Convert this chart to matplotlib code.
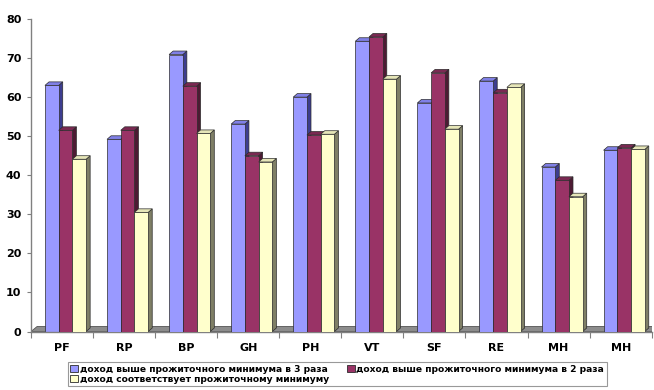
import matplotlib
matplotlib.use("Agg")
import matplotlib.pyplot as plt
from matplotlib.patches import Polygon, Patch

# Data
categories = ["PF", "RP", "BP", "GH", "PH", "VT", "SF", "RE", "MH", "MH"]
series_names = [
    "доход выше прожиточного минимума в 3 раза",
    "доход выше прожиточного минимума в 2 раза",
    "доход соответствует прожиточному минимуму",
]
income_3x = [63.0, 49.2, 70.9, 53.1, 60.0, 74.3, 58.5, 64.1, 42.1, 46.4]
income_2x = [51.5, 51.5, 62.8, 45.0, 50.3, 75.4, 66.2, 61.1, 38.7, 47.0]
income_min = [44.1, 30.5, 50.7, 43.4, 50.5, 64.6, 51.8, 62.5, 34.5, 46.6]
series = [income_3x, income_2x, income_min]

y_ticks = [0, 10, 20, 30, 40, 50, 60, 70, 80]

# Face colours: front, top, side
front_colors = ["#9999FF", "#993366", "#FFFFCC"]
top_colors = ["#8080E6", "#7A2952", "#E6E6B8"]
side_colors = ["#3D3D8F", "#4D1A33", "#7F7F66"]
edge_color = "#2b2b2b"

FONT = ["DejaVu Sans"]
plt.rcParams["font.family"] = FONT
plt.rcParams["font.weight"] = "bold"

fig = plt.figure(figsize=(6.54, 3.90), dpi=100)
fig.patch.set_facecolor("white")
ax = fig.add_axes([31 / 654, 58.5 / 390, (651.7 - 31) / 654, (331.5 - 19) / 390])

n = len(categories)
bar_w = 0.221
start = 0.225
# depth of the pseudo-3D faces (x in category units, y in value units)
dx, dy = 0.065, 0.9

# floor slab
floor = Polygon([(0, 0), (n, 0), (n + 0.1, 1.3), (0.1, 1.3)], closed=True,
                facecolor="#8c8c8c", edgecolor="#555555", lw=0.6, zorder=1)
ax.add_patch(floor)

z = 2
for i in range(n):
    for j, vals in enumerate(series):
        x0 = i + start + j * bar_w
        v = vals[i]
        side = Polygon([(x0 + bar_w, 0), (x0 + bar_w + dx, dy),
                        (x0 + bar_w + dx, v + dy), (x0 + bar_w, v)],
                       closed=True, facecolor=side_colors[j],
                       edgecolor=edge_color, lw=0.5, zorder=z)
        top = Polygon([(x0, v), (x0 + dx, v + dy),
                       (x0 + bar_w + dx, v + dy), (x0 + bar_w, v)],
                      closed=True, facecolor=top_colors[j],
                      edgecolor=edge_color, lw=0.5, zorder=z)
        ax.add_patch(side)
        ax.add_patch(top)
        ax.bar(x0, v, width=bar_w, align="edge", color=front_colors[j],
               edgecolor=edge_color, linewidth=0.5, zorder=z + 0.5)
        z += 1

ax.set_xlim(0, n)
ax.set_ylim(0, 80)
ax.set_yticks(y_ticks)
ax.set_yticklabels([str(t) for t in y_ticks], fontsize=8, fontweight="bold")

ax.set_xticks(range(n + 1))
ax.set_xticklabels([])
ax.set_xticks([i + 0.5 for i in range(n)], minor=True)
ax.set_xticklabels(categories, minor=True, fontsize=8, fontweight="bold")
ax.tick_params(axis="x", which="minor", length=0, pad=8)
ax.tick_params(axis="x", which="major", length=4, color="#808080", direction="out")
ax.tick_params(axis="y", length=3, color="#808080", direction="out", pad=4)

for s in ("top", "right"):
    ax.spines[s].set_visible(False)
for s in ("left", "bottom"):
    ax.spines[s].set_color("#808080")
    ax.spines[s].set_linewidth(1.0)
ax.set_facecolor("white")

handles = [Patch(facecolor=front_colors[0], edgecolor=edge_color, lw=0.6),
           Patch(facecolor=front_colors[2], edgecolor=edge_color, lw=0.6),
           Patch(facecolor=front_colors[1], edgecolor=edge_color, lw=0.6)]
labels = [series_names[0], series_names[2], series_names[1]]
leg = fig.legend(handles, labels, loc="upper left",
                 bbox_to_anchor=(67.7 / 654, 1 - 362 / 390), ncol=2,
                 frameon=True, fancybox=False, shadow=False,
                 prop={"family": FONT, "weight": "bold", "size": 6.6},
                 handlelength=0.8, handleheight=0.8, handletextpad=0.2,
                 labelspacing=0.1, columnspacing=2.0, borderpad=0.3,
                 borderaxespad=0)
leg.get_frame().set_edgecolor("#808080")
leg.get_frame().set_linewidth(0.8)

fig.savefig("out.png", dpi=100, facecolor="white")
